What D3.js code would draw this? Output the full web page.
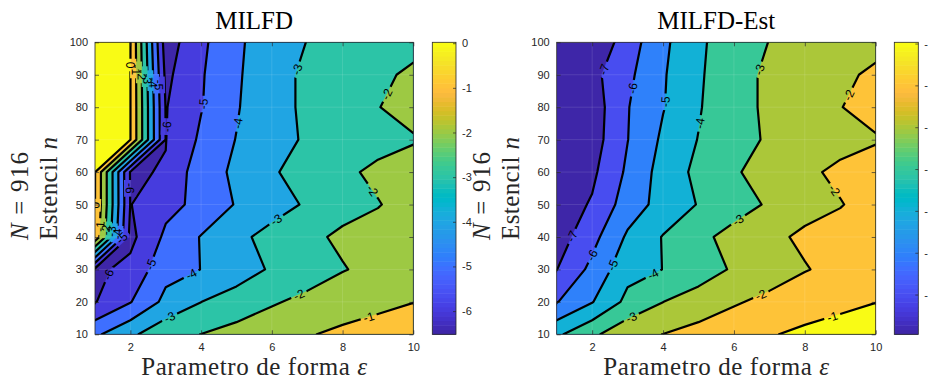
<!DOCTYPE html>
<html>
<head>
<meta charset="utf-8">
<script src="https://cdn.jsdelivr.net/npm/d3@7"></script>
<style>
  body { margin: 0; background: #fff; }
  svg { display: block; }
</style>
</head>
<body>
<svg id="chart" width="928" height="379"></svg>
<script>
// grid of the experiment
const epsilon = [1, 2, 3, 4, 5, 6, 7, 8, 9, 10];
const stencil = [10, 20, 30, 40, 50, 60, 70, 80, 90, 100];

// log10 error, one row per stencil size n = 10 ... 100, columns eps = 1 ... 10
const errMILFD = [
  [-4.19, -3.2, -2.33, -1.99, -1.7, -1.4, -1.0074, -0.98, -0.975, -0.97],
  [-6.05, -5.05, -3.74, -3.01, -2.5, -2.1, -1.77, -1.049, -1.015, -1.001],
  [-6.2, -5.74, -4.32, -3.99, -3.55, -2.87, -2.45, -2.08, -1.58, -1.3],
  [-0.25, -6.26, -4.81, -3.95, -3.3, -2.6, -2.3, -1.77, -1.6, -1.45],
  [0.005, -6.03, -5.28, -4.76, -3.925, -3.5, -2.86, -2.45, -2.05, -1.6],
  [0.02, -6.07, -5.96, -4.36, -3.86, -3.15, -2.44, -2.2, -1.79, -1.45],
  [0.01, 0.02, -6.02, -4.83, -3.965, -3.3, -2.9, -2.6, -2.34, -2.1],
  [0.01, 0.02, -6.05, -5.05, -4.1, -3.1, -2.95, -2.5, -2.03, -1.6],
  [0.01, 0.02, -6.23, -5.09, -4.18, -3.1, -2.95, -2.6, -2.2, -1.82],
  [0.01, 0.02, -6.52, -5.18, -4.3, -3.05, -2.998, -2.65, -2.45, -2.3]
];
const errMILFDEst = [
  [-4.19, -3.2, -2.33, -1.99, -1.7, -1.4, -1.0074, -0.98, -0.975, -0.97],
  [-6.05, -5.05, -3.74, -3.01, -2.5, -2.1, -1.77, -1.049, -1.015, -1.001],
  [-7.02, -5.74, -4.32, -3.99, -3.55, -2.87, -2.45, -2.08, -1.58, -1.3],
  [-7.49, -6.32, -4.85, -3.95, -3.3, -2.6, -2.3, -1.77, -1.6, -1.45],
  [-7.57, -6.9, -5.52, -4.64, -3.95, -3.5, -2.86, -2.45, -2.05, -1.6],
  [-7.7, -7.2, -5.83, -4.61, -3.75, -3.15, -2.44, -2.2, -1.79, -1.45],
  [-7.75, -7.46, -6.02, -4.83, -3.965, -3.3, -2.9, -2.6, -2.34, -2.1],
  [-7.8, -7.53, -6.05, -5.05, -4.1, -3.1, -2.95, -2.5, -2.03, -1.6],
  [-7.85, -7.285, -6.23, -5.09, -4.18, -3.1, -2.95, -2.6, -2.2, -1.82],
  [-7.95, -7.81, -6.52, -5.18, -4.3, -3.05, -2.998, -2.65, -2.45, -2.3]
];

const levelsMILFD = [-6, -5, -4, -3, -2, -1, 0];
const levelsEst = [-7, -6, -5, -4, -3, -2, -1];
const xTicks = [2, 4, 6, 8, 10];
const yTicks = [10, 20, 30, 40, 50, 60, 70, 80, 90, 100];
const cbTicksMILFD = [0, -1, -2, -3, -4, -5, -6];
const cbTicksEst = [-1, -2, -3, -4, -5, -6, -7];

// where clabel put the inline labels: [level, eps, n]
const labelsMILFD = [
  [0, 2.04, 93], [-1, 2.18, 91.5], [-2, 2.35, 90], [-3, 2.52, 88.8], [-4, 2.64, 87.6], [-5, 2.75, 86.8],
  [-5, 4.02, 81], [-4, 5.05, 75], [-3, 6.75, 91.5], [-2, 9.25, 84], [-6, 3.02, 74], [-6, 1.98, 55],
  [-2, 8.87, 54.5], [-3, 6.14, 45], [-5, 2.7, 31], [-4, 3.73, 28.3], [-6, 1.47, 28], [-3, 3.12, 15],
  [-2, 6.75, 22.6], [-1, 8.72, 16],
  [0, 1.02, 47], [-1, 1.14, 43.2], [-2, 1.28, 42.2], [-3, 1.44, 41.7], [-4, 1.6, 40.9], [-5, 1.73, 40]
];
const labelsEst = [
  [-7, 2.36, 91.5], [-6, 3.16, 85.8], [-5, 4.01, 81.7], [-4, 5.04, 75], [-3, 6.74, 91.5], [-2, 9.23, 83.8],
  [-2, 8.85, 54.5], [-3, 6.12, 45.2], [-7, 1.47, 40], [-6, 1.99, 34.4], [-5, 2.69, 30.8], [-4, 3.73, 28.3],
  [-3, 3.12, 14.9], [-2, 6.74, 22.6], [-1, 8.76, 16]
];

// MATLAB parula(64)
const parula = [
[0.2422,0.1504,0.6603],[0.2504,0.1650,0.7076],[0.2578,0.1818,0.7511],[0.2647,0.1978,0.7952],
[0.2706,0.2147,0.8364],[0.2751,0.2342,0.8710],[0.2783,0.2559,0.8991],[0.2803,0.2782,0.9221],
[0.2813,0.3006,0.9414],[0.2810,0.3228,0.9579],[0.2795,0.3447,0.9717],[0.2760,0.3667,0.9829],
[0.2699,0.3892,0.9906],[0.2602,0.4123,0.9952],[0.2440,0.4358,0.9988],[0.2206,0.4603,0.9973],
[0.1963,0.4847,0.9892],[0.1834,0.5074,0.9798],[0.1786,0.5289,0.9682],[0.1764,0.5499,0.9520],
[0.1687,0.5703,0.9359],[0.1540,0.5902,0.9218],[0.1460,0.6091,0.9079],[0.1380,0.6276,0.8973],
[0.1248,0.6459,0.8883],[0.1113,0.6635,0.8763],[0.0952,0.6798,0.8598],[0.0689,0.6948,0.8394],
[0.0297,0.7082,0.8163],[0.0036,0.7203,0.7917],[0.0067,0.7312,0.7660],[0.0433,0.7411,0.7394],
[0.0964,0.7500,0.7120],[0.1408,0.7584,0.6842],[0.1717,0.7670,0.6554],[0.1938,0.7758,0.6251],
[0.2161,0.7843,0.5923],[0.2470,0.7918,0.5567],[0.2906,0.7973,0.5188],[0.3406,0.8008,0.4789],
[0.3909,0.8029,0.4354],[0.4456,0.8024,0.3909],[0.5044,0.7993,0.3480],[0.5616,0.7942,0.3045],
[0.6174,0.7876,0.2612],[0.6720,0.7793,0.2227],[0.7242,0.7698,0.1910],[0.7738,0.7598,0.1646],
[0.8203,0.7498,0.1535],[0.8634,0.7406,0.1596],[0.9035,0.7330,0.1774],[0.9393,0.7288,0.2100],
[0.9728,0.7298,0.2394],[0.9956,0.7434,0.2371],[0.9970,0.7659,0.2199],[0.9952,0.7893,0.2028],
[0.9892,0.8136,0.1885],[0.9786,0.8386,0.1766],[0.9676,0.8639,0.1643],[0.9610,0.8890,0.1537],
[0.9597,0.9135,0.1423],[0.9628,0.9373,0.1265],[0.9691,0.9606,0.1064],[0.9769,0.9839,0.0805]
].map(c => d3.rgb(c[0] * 255, c[1] * 255, c[2] * 255).formatHex());

const svg = d3.select("#chart");
const defs = svg.append("defs");
const axTop = 42.3, axBottom = 334.3;
const ink = "#262626";
const sans = "Liberation Sans, Arial, sans-serif";
const serif = "Liberation Serif, Times New Roman, serif";

const panels = [
  {title: "MILFD", z: errMILFD, levels: levelsMILFD, cbTicks: cbTicksMILFD, labels: labelsMILFD,
   left: 95, right: 413.3, cbLeft: 432.3, cbRight: 456, yl1: 28.3, yl2: 56.7},
  {title: "MILFD-Est", z: errMILFDEst, levels: levelsEst, cbTicks: cbTicksEst, labels: labelsEst,
   left: 556.7, right: 875.7, cbLeft: 894.3, cbRight: 918.3, yl1: 490, yl2: 519}
];

panels.forEach((p, pi) => {
  const x = d3.scaleLinear().domain(d3.extent(epsilon)).range([p.left, p.right]);
  const y = d3.scaleLinear().domain(d3.extent(stencil)).range([axBottom, axTop]);
  // d3.contours puts sample i at grid coordinate i + 0.5
  const gx = d3.scaleLinear().domain([0.5, epsilon.length - 0.5]).range(x.domain());
  const gy = d3.scaleLinear().domain([0.5, stencil.length - 0.5]).range(y.domain());
  const toPx = ([a, b]) => [x(gx(a)), y(gy(b))];

  const [cmin, cmax] = d3.extent(p.z.flat());
  const colorOf = v => parula[Math.max(0, Math.min(63, Math.floor((v - cmin) / (cmax - cmin) * 64)))];

  const contours = d3.contours()
    .size([epsilon.length, stencil.length])
    .thresholds(p.levels)(p.z.flat());

  const proj = d3.geoTransform({
    point(a, b) { const q = toPx([a, b]); this.stream.point(q[0], q[1]); }
  });
  const path = d3.geoPath(proj);

  const clipId = "clip" + pi, maskId = "mask" + pi;
  defs.append("clipPath").attr("id", clipId)
    .append("rect")
    .attr("x", p.left).attr("y", axTop)
    .attr("width", p.right - p.left).attr("height", axBottom - axTop);

  const g = svg.append("g");
  const plot = g.append("g").attr("clip-path", `url(#${clipId})`);

  // lowest band
  plot.append("rect")
    .attr("x", p.left).attr("y", axTop)
    .attr("width", p.right - p.left).attr("height", axBottom - axTop)
    .attr("fill", parula[0]);

  plot.selectAll("path.band")
    .data(contours)
    .join("path")
    .attr("class", "band")
    .attr("d", path)
    .attr("fill", d => colorOf(d.value))
    .attr("stroke", d => colorOf(d.value))
    .attr("stroke-width", 0.4);

  // faint patch seams
  plot.selectAll("line.seamx")
    .data(xTicks.slice(0, -1))
    .join("line")
    .attr("x1", d => x(d)).attr("x2", d => x(d))
    .attr("y1", axTop).attr("y2", axBottom)
    .attr("stroke", "#fff").attr("stroke-opacity", 0.15).attr("stroke-width", 0.8);
  plot.selectAll("line.seamy")
    .data(yTicks.slice(1, -1))
    .join("line")
    .attr("y1", d => y(d)).attr("y2", d => y(d))
    .attr("x1", p.left).attr("x2", p.right)
    .attr("stroke", "#fff").attr("stroke-opacity", 0.15).attr("stroke-width", 0.8);

  // inline labels, snapped onto the contour line of their level
  const inside = (px, py) => px >= p.left - 0.5 && px <= p.right + 0.5 && py >= axTop - 0.5 && py <= axBottom + 0.5;
  const placed = [];
  p.labels.forEach(([lev, e, n]) => {
    const c = contours.find(d => d.value === lev);
    if (!c) return;
    const tx = x(e), ty = y(n);
    let best = null;
    c.coordinates.forEach(poly => poly.forEach(ring => {
      const pts = ring.map(toPx);
      for (let k = 0; k < pts.length - 1; k++) {
        const [x0, y0] = pts[k], [x1, y1] = pts[k + 1];
        if (!inside(x0, y0) || !inside(x1, y1)) continue;
        const dx = x1 - x0, dy = y1 - y0, l2 = dx * dx + dy * dy;
        if (l2 === 0) continue;
        const t = Math.max(0, Math.min(1, ((tx - x0) * dx + (ty - y0) * dy) / l2));
        const px = x0 + t * dx, py = y0 + t * dy;
        const dd = (px - tx) ** 2 + (py - ty) ** 2;
        if (!best || dd < best.dd) best = {dd, px, py, ang: Math.atan2(dy, dx) * 180 / Math.PI};
      }
    }));
    if (!best) return;
    let a = best.ang;
    if (a > 90) a -= 180;
    if (a <= -90) a += 180;
    placed.push({text: String(lev), x: best.px, y: best.py, a});
  });

  const mask = defs.append("mask").attr("id", maskId)
    .attr("maskUnits", "userSpaceOnUse")
    .attr("x", 0).attr("y", 0).attr("width", 928).attr("height", 379);
  mask.append("rect").attr("width", 928).attr("height", 379).attr("fill", "#fff");

  plot.append("g")
    .attr("mask", `url(#${maskId})`)
    .selectAll("path")
    .data(contours)
    .join("path")
    .attr("d", path)
    .attr("fill", "none")
    .attr("stroke", "#000")
    .attr("stroke-width", 2.2)
    .attr("stroke-linejoin", "round");

  const lbl = plot.append("g")
    .selectAll("text")
    .data(placed)
    .join("text")
    .attr("transform", d => `translate(${d.x},${d.y}) rotate(${d.a})`)
    .attr("text-anchor", "middle")
    .attr("dy", "0.36em")
    .attr("font-family", sans)
    .attr("font-size", 12)
    .attr("fill", "#000")
    .text(d => d.text);

  lbl.each(function(d) {
    const w = this.getComputedTextLength() + 6;
    mask.append("rect")
      .attr("x", -w / 2).attr("y", -6).attr("width", w).attr("height", 12)
      .attr("transform", `translate(${d.x},${d.y}) rotate(${d.a})`)
      .attr("fill", "#000");
  });

  // axes
  const axisStyle = sel => {
    sel.select(".domain").remove();
    sel.selectAll(".tick line").attr("stroke", ink).attr("stroke-width", 0.7);
    sel.selectAll(".tick text").attr("fill", ink)
      .attr("font-family", sans).attr("font-size", 11);
  };
  const fmt = d => String(d);
  g.append("g").attr("transform", `translate(0,${axBottom})`)
    .call(d3.axisBottom(x).tickValues(xTicks).tickSize(-4).tickPadding(9).tickFormat(fmt))
    .call(axisStyle);
  g.append("g").attr("transform", `translate(0,${axTop})`)
    .call(d3.axisTop(x).tickValues(xTicks).tickSize(-4).tickFormat(""))
    .call(axisStyle);
  g.append("g").attr("transform", `translate(${p.left},0)`)
    .call(d3.axisLeft(y).tickValues(yTicks).tickSize(-4).tickPadding(7).tickFormat(fmt))
    .call(axisStyle);
  g.append("g").attr("transform", `translate(${p.right},0)`)
    .call(d3.axisRight(y).tickValues(yTicks).tickSize(-4).tickFormat(""))
    .call(axisStyle);
  g.append("rect")
    .attr("x", p.left).attr("y", axTop)
    .attr("width", p.right - p.left).attr("height", axBottom - axTop)
    .attr("fill", "none").attr("stroke", ink).attr("stroke-width", 0.8);

  // colorbar
  const cy = d3.scaleLinear().domain([cmin, cmax]).range([axBottom, axTop]);
  const step = (cmax - cmin) / parula.length;
  g.append("g").selectAll("rect")
    .data(parula)
    .join("rect")
    .attr("x", p.cbLeft)
    .attr("width", p.cbRight - p.cbLeft)
    .attr("y", (d, i) => cy(cmin + (i + 1) * step))
    .attr("height", (axBottom - axTop) / parula.length + 0.5)
    .attr("fill", d => d);
  g.append("g").attr("transform", `translate(${p.cbRight},0)`)
    .call(d3.axisRight(cy).tickValues(p.cbTicks).tickSize(-3).tickPadding(6).tickFormat(fmt))
    .call(axisStyle);
  g.append("rect")
    .attr("x", p.cbLeft).attr("y", axTop)
    .attr("width", p.cbRight - p.cbLeft).attr("height", axBottom - axTop)
    .attr("fill", "none").attr("stroke", ink).attr("stroke-width", 0.8);

  // text
  g.append("text")
    .attr("x", (p.left + p.right) / 2).attr("y", 29.3)
    .attr("text-anchor", "middle")
    .attr("font-family", serif).attr("font-size", 25)
    .attr("fill", "#000")
    .text(p.title);

  const xl = g.append("text")
    .attr("x", (p.left + p.right) / 2).attr("y", 375)
    .attr("text-anchor", "middle")
    .attr("font-family", serif).attr("font-size", 25)
    .attr("textLength", 226).attr("lengthAdjust", "spacing")
    .attr("fill", ink);
  xl.append("tspan").text("Parametro de forma ");
  xl.append("tspan").attr("font-style", "italic").text("ε");

  const yl1 = g.append("text")
    .attr("transform", `translate(${p.yl1},240) rotate(-90)`)
    .attr("font-family", serif).attr("font-size", 25)
    .attr("textLength", 88).attr("lengthAdjust", "spacing")
    .attr("fill", ink);
  yl1.append("tspan").attr("font-style", "italic").text("N");
  yl1.append("tspan").text(" = 916");

  const yl2 = g.append("text")
    .attr("transform", `translate(${p.yl2},240) rotate(-90)`)
    .attr("font-family", serif).attr("font-size", 25)
    .attr("textLength", 103).attr("lengthAdjust", "spacing")
    .attr("fill", ink);
  yl2.append("tspan").text("Estencil ");
  yl2.append("tspan").attr("font-style", "italic").text("n");
});
</script>
</body>
</html>
